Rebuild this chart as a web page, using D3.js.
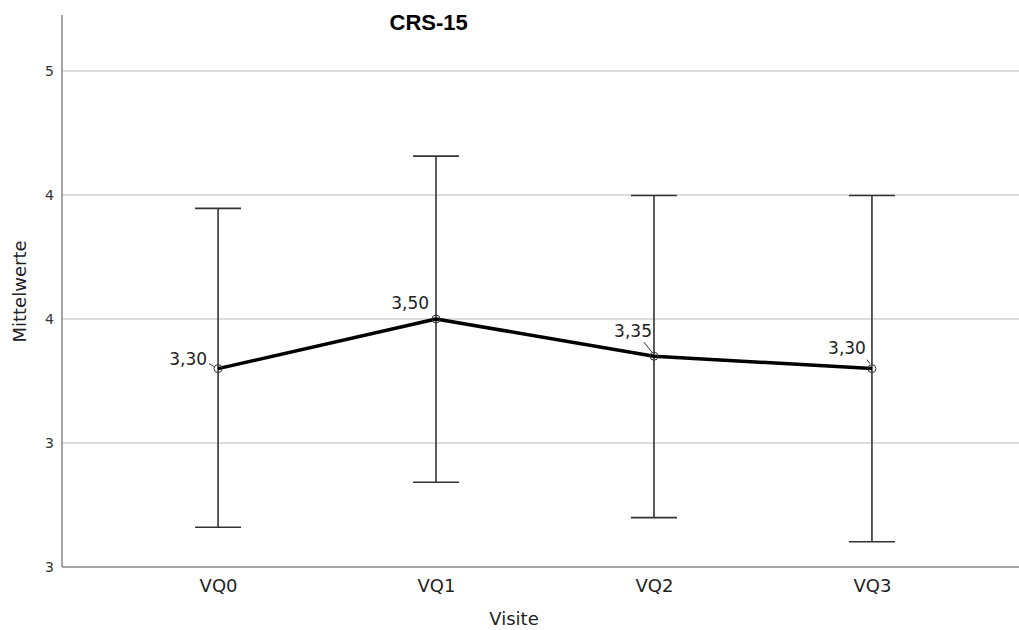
<!DOCTYPE html>
<html>
<head>
<meta charset="utf-8">
<script src="https://cdn.jsdelivr.net/npm/d3@7"></script>
<style>
  body { margin: 0; background: #fff; }
  svg { display: block; }
  .grid line { stroke: #d2d2d2; stroke-width: 1.5; }
  .axis path, .axis line { stroke: #888; stroke-width: 1.5; }
  text { font-family: "DejaVu Sans", sans-serif; fill: #222; }
</style>
</head>
<body>
<svg width="1019" height="630"></svg>
<script>
// data
var visits = ['VQ0', 'VQ1', 'VQ2', 'VQ3'];
var means = [3.30, 3.50, 3.35, 3.30];
var upper = [3.946, 4.157, 3.998, 3.998];
var lower = [2.660, 2.842, 2.699, 2.602];
var meanLabels = ['3,30', '3,50', '3,35', '3,30'];
var yTicks = [2.5, 3, 3.5, 4, 4.5];

// label placement (offset from point), leader line ends
var labelPos = [
  {dx: -11, dy: -3.5, l: [-9, -5, -4, -2]},
  {dx: -7, dy: -10, l: null},
  {dx: -2, dy: -19, l: [-10, -14, -2, -4]},
  {dx: -6, dy: -15, l: [-5, -9, -2, -5]}
];

var svg = d3.select('svg'),
    plotLeft = 62, plotRight = 1028, plotTop = 15, plotBottom = 567;

var x = d3.scalePoint()
    .domain(visits)
    .range([plotLeft, plotRight])
    .padding(0.716);

var y = d3.scaleLinear()
    .domain([2.5, 4.726])
    .range([plotBottom, plotTop]);

// gridlines
svg.append('g')
    .attr('class', 'grid')
    .selectAll('line')
    .data(yTicks.filter(d => d > 2.5))
    .enter().append('line')
    .attr('x1', plotLeft).attr('x2', 1019)
    .attr('y1', d => y(d)).attr('y2', d => y(d));

// y axis
var yAxis = svg.append('g')
    .attr('class', 'axis')
    .attr('transform', 'translate(' + plotLeft + ',0)')
    .call(d3.axisLeft(y).tickValues(yTicks).tickSize(0).tickPadding(8)
        .tickFormat(d => Math.round(d)));
yAxis.select('.domain').attr('d', 'M0,' + plotTop + 'V' + plotBottom);
yAxis.selectAll('text').style('font-size', '14px').style('fill', '#333');

// x axis
var xAxis = svg.append('g')
    .attr('class', 'axis')
    .attr('transform', 'translate(0,' + plotBottom + ')')
    .call(d3.axisBottom(x).tickSize(0).tickPadding(12));
xAxis.select('.domain').attr('d', 'M' + plotLeft + ',0H1019');
xAxis.selectAll('text').style('font-size', '18px').style('fill', '#222');

// error bars
var eb = svg.append('g').selectAll('g')
    .data(visits)
    .enter().append('g')
    .attr('stroke', '#333')
    .attr('stroke-width', 1.6);
eb.append('line')
    .attr('x1', d => x(d)).attr('x2', d => x(d))
    .attr('y1', (d, i) => y(upper[i])).attr('y2', (d, i) => y(lower[i]));
eb.append('line')
    .attr('x1', d => x(d) - 23).attr('x2', d => x(d) + 23)
    .attr('y1', (d, i) => y(upper[i])).attr('y2', (d, i) => y(upper[i]));
eb.append('line')
    .attr('x1', d => x(d) - 23).attr('x2', d => x(d) + 23)
    .attr('y1', (d, i) => y(lower[i])).attr('y2', (d, i) => y(lower[i]));

// mean line
var line = d3.line()
    .x((d, i) => x(visits[i]))
    .y(d => y(d));
svg.append('path')
    .datum(means)
    .attr('d', line)
    .attr('fill', 'none')
    .attr('stroke', '#000')
    .attr('stroke-width', 3.5)
    .attr('stroke-linejoin', 'round');

svg.append('g').selectAll('circle')
    .data(means)
    .enter().append('circle')
    .attr('cx', (d, i) => x(visits[i]))
    .attr('cy', d => y(d))
    .attr('r', 4)
    .attr('fill', 'none')
    .attr('stroke', '#333')
    .attr('stroke-width', 1);

// value labels
means.forEach((d, i) => {
    let g = svg.append('g')
        .attr('transform', 'translate(' + x(visits[i]) + ',' + y(d) + ')');
    g.append('text')
        .attr('x', labelPos[i].dx)
        .attr('y', labelPos[i].dy)
        .attr('text-anchor', 'end')
        .style('font-size', '17px')
        .text(meanLabels[i]);
    let l = labelPos[i].l;
    if (l) {
        g.append('line')
            .attr('x1', l[0]).attr('y1', l[1]).attr('x2', l[2]).attr('y2', l[3])
            .attr('stroke', '#333')
            .attr('stroke-width', 1);
    }
});

// titles
svg.append('text')
    .attr('x', 428.7).attr('y', 30)
    .attr('text-anchor', 'middle')
    .style('font-family', '"Liberation Sans", Arial, sans-serif')
    .style('font-weight', 'bold')
    .style('font-size', '22px')
    .style('fill', '#000')
    .text('CRS-15');

svg.append('text')
    .attr('x', 514).attr('y', 625)
    .attr('text-anchor', 'middle')
    .style('font-size', '18px')
    .text('Visite');

svg.append('text')
    .attr('transform', 'translate(25.5,291.5) rotate(-90)')
    .attr('text-anchor', 'middle')
    .style('font-size', '18px')
    .text('Mittelwerte');
</script>
</body>
</html>
